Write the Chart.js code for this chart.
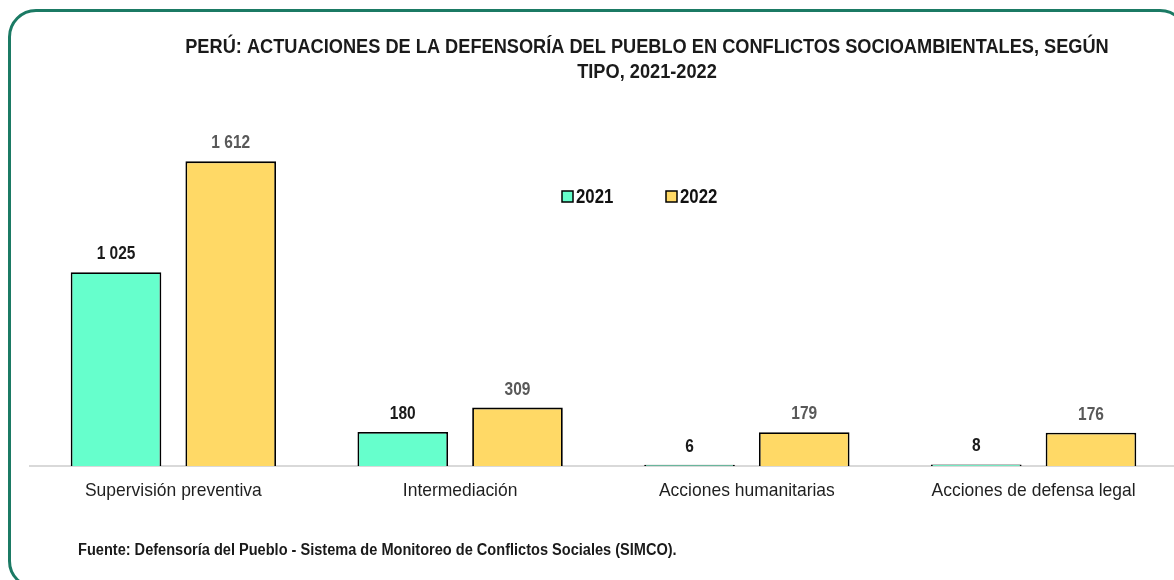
<!DOCTYPE html>
<html>
<head>
<meta charset="utf-8">
<script src="https://cdn.jsdelivr.net/npm/chart.js@4"></script>
<style>
  html, body { margin: 0; padding: 0; background: #ffffff; overflow: hidden; }
  #frame {
    position: absolute; left: 8px; top: 9px; width: 1180px; height: 580px;
    border: 3px solid #1b7a64; border-radius: 28px; box-sizing: border-box;
  }
  #wrap { position: absolute; left: 0; top: 0; width: 1180px; height: 580px; }
</style>
</head>
<body>
<div id="frame"></div>
<div id="wrap"><canvas id="chart" width="1180" height="580"></canvas></div>
<script>
// Actuaciones de la Defensoría por tipo de conflicto socioambiental
const categories = ['Supervisión preventiva', 'Intermediación', 'Acciones humanitarias', 'Acciones de defensa legal'];
const years = ['2021', '2022'];
const values2021 = [1025, 180, 6, 8];
const values2022 = [1612, 309, 179, 176];

const FONT = "'Liberation Sans', Arial, sans-serif";

const titleLines = [
    'PERÚ: ACTUACIONES DE LA DEFENSORÍA DEL PUEBLO EN CONFLICTOS SOCIOAMBIENTALES, SEGÚN',
    'TIPO, 2021-2022'
];
const sourceText = 'Fuente: Defensoría del Pueblo - Sistema de Monitoreo de Conflictos Sociales (SIMCO).';

const labelColors = ['#1a1a1a', '#595959'];

function formatValue(v) {
    // thousands separated by a space: 1 612
    return String(v).replace(/\B(?=(\d{3})+(?!\d))/g, ' ');
}

// no narrow font installed, so squeeze the text horizontally instead
function narrowText(ctx, text, x, y, sx, align) {
    ctx.save();
    ctx.translate(x, y);
    ctx.scale(sx, 1);
    ctx.textAlign = align || 'center';
    ctx.fillText(text, 0, 0);
    ctx.restore();
}

// Title, legend, category names, source note and value labels
const decorations = {
    id: 'decorations',
    afterDatasetsDraw(chart) {
        const ctx = chart.ctx;
        ctx.save();
        ctx.textBaseline = 'middle';

        // title
        ctx.fillStyle = '#1a1a1a';
        ctx.font = 'bold 20px ' + FONT;
        narrowText(ctx, titleLines[0], 647, 47, 0.91);
        narrowText(ctx, titleLines[1], 647, 72, 0.91);

        // category names under the axis
        const xScale = chart.scales.x;
        ctx.font = '19px ' + FONT;
        ctx.fillStyle = '#1f1f1f';
        categories.forEach((c, i) => {
            narrowText(ctx, c, xScale.getPixelForTick(i), 491, 0.92);
        });

        // value labels above each bar
        ctx.font = 'bold 18px ' + FONT;
        chart.data.datasets.forEach((ds, i) => {
            const meta = chart.getDatasetMeta(i);
            ctx.fillStyle = labelColors[i];
            meta.data.forEach((bar, j) => {
                narrowText(ctx, formatValue(ds.data[j]), bar.x, bar.y - 18, 0.86);
            });
        });

        // legend
        ctx.font = 'bold 20px ' + FONT;
        const legendX = [562, 666];
        chart.data.datasets.forEach((ds, i) => {
            const x = legendX[i];
            ctx.fillStyle = ds.backgroundColor;
            ctx.fillRect(x, 191, 11, 11);
            ctx.strokeStyle = '#000000';
            ctx.lineWidth = 1.5;
            ctx.strokeRect(x, 191, 11, 11);
            ctx.fillStyle = '#111111';
            narrowText(ctx, ds.label, x + 14, 197, 0.84, 'left');
        });

        // source note
        ctx.font = 'bold 16px ' + FONT;
        ctx.fillStyle = '#1a1a1a';
        narrowText(ctx, sourceText, 78, 551, 0.91, 'left');

        ctx.restore();
    }
};

new Chart(document.getElementById('chart'), {
    type: 'bar',
    data: {
        labels: categories,
        datasets: [
            {
                label: years[0],
                data: values2021,
                backgroundColor: '#66ffcc',
                borderColor: '#000000',
                borderWidth: 1.8
            },
            {
                label: years[1],
                data: values2022,
                backgroundColor: '#ffd966',
                borderColor: '#000000',
                borderWidth: 1.8
            }
        ]
    },
    options: {
        responsive: false,
        animation: false,
        events: [],
        categoryPercentage: 0.8,
        barPercentage: 0.79,
        layout: { padding: { left: 30, right: 3, top: 88, bottom: 74 } },
        plugins: {
            legend: { display: false },
            title: { display: false },
            tooltip: { enabled: false }
        },
        scales: {
            x: {
                grid: { display: false, drawTicks: false },
                border: { display: true, color: '#d9d9d9', width: 2 },
                ticks: { display: false },
                afterFit(scale) { scale.height = 40; }
            },
            y: {
                display: false,
                min: 0,
                max: 2000
            }
        }
    },
    plugins: [decorations]
});
</script>
</body>
</html>
